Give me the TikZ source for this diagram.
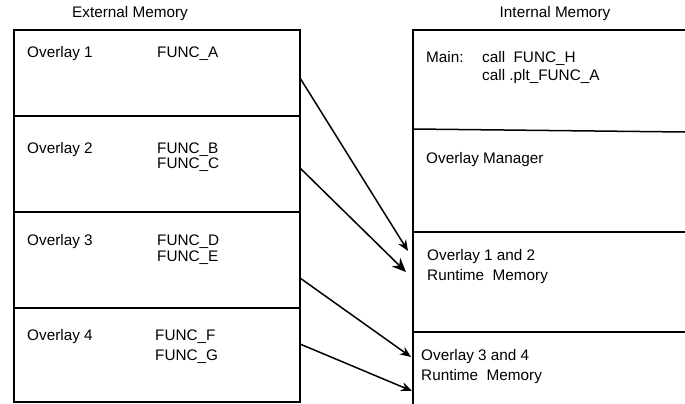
\documentclass[tikz,border=0pt]{standalone}
\usepackage{fontspec}
\setmainfont{Liberation Sans}
\usetikzlibrary{arrows.meta}
\begin{document}
\begin{tikzpicture}[x=1pt,y=-1pt,
  lbl/.style={anchor=base west,inner sep=0pt,font=\fontsize{15.3}{17}\selectfont},
  ttl/.style={anchor=base,inner sep=0pt,font=\fontsize{15.3}{17}\selectfont},
  wall/.style={line width=1.5pt,black},
  link/.style={line width=1.5pt,-{Stealth[length=11pt,width=9pt]}},
  biglink/.style={line width=1.5pt,-{Stealth[length=14pt,width=12pt]}}]
\useasboundingbox (0,0) rectangle (685,404);
% left box
\draw[wall] (14,30) rectangle (300,402);
\draw[wall] (14,116) -- (300,116);
\draw[wall] (14,212) -- (300,212);
\draw[wall] (14,308) -- (300,308);
% right box
\draw[wall] (685,30) -- (413,30) -- (413,404);
\draw[wall] (413,129) -- (685,132);
\draw[wall] (413,232) -- (685,232);
\draw[wall] (413,332) -- (685,332);
% titles
\node[ttl] (ext) at (130,18) {External Memory};
\node[ttl] (int) at (555,18) {Internal Memory};
% left texts
\node[lbl] (o1) at (27,57) {Overlay 1};
\node[lbl] (fa) at (157,57) {FUNC\_A};
\node[lbl] (o2) at (27,153) {Overlay 2};
\node[lbl] (fb) at (157,153) {FUNC\_B};
\node[lbl] (fc) at (157,168) {FUNC\_C};
\node[lbl] (o3) at (27,245) {Overlay 3};
\node[lbl] (fd) at (157,245) {FUNC\_D};
\node[lbl] (fe) at (157,261) {FUNC\_E};
\node[lbl] (o4) at (27,340) {Overlay 4};
\node[lbl] (ff) at (155,340) {FUNC\_F};
\node[lbl] (fg) at (155,360) {FUNC\_G};
% right texts
\node[lbl] (mn) at (426,63) {Main:};
\node[lbl] (ch) at (482,63) {call\ \ FUNC\_H};
\node[lbl] (cp) at (482,81) {call .plt\_FUNC\_A};
\node[lbl] (om) at (426,163) {Overlay Manager};
\node[lbl] (r1) at (427,260) {Overlay 1 and 2};
\node[lbl] (r1b) at (427,280) {Runtime\ \ Memory};
\node[lbl] (r2) at (421,360) {Overlay 3 and 4};
\node[lbl] (r2b) at (421,380) {Runtime\ \ Memory};
% connector ends
\coordinate (s1) at (300,78);
\coordinate (s2) at (300,168);
\coordinate (s3) at (300,278);
\coordinate (s4) at (300,344);
\coordinate (t1) at (408,251);
\coordinate (t2) at (406,272);
\coordinate (t3) at (411,357);
\coordinate (t4) at (412,391);
\draw[link] (s1) -- (t1);
\draw[biglink] (s2) -- (t2);
\draw[link] (s3) -- (t3);
\draw[link] (s4) -- (t4);
\end{tikzpicture}
\end{document}
